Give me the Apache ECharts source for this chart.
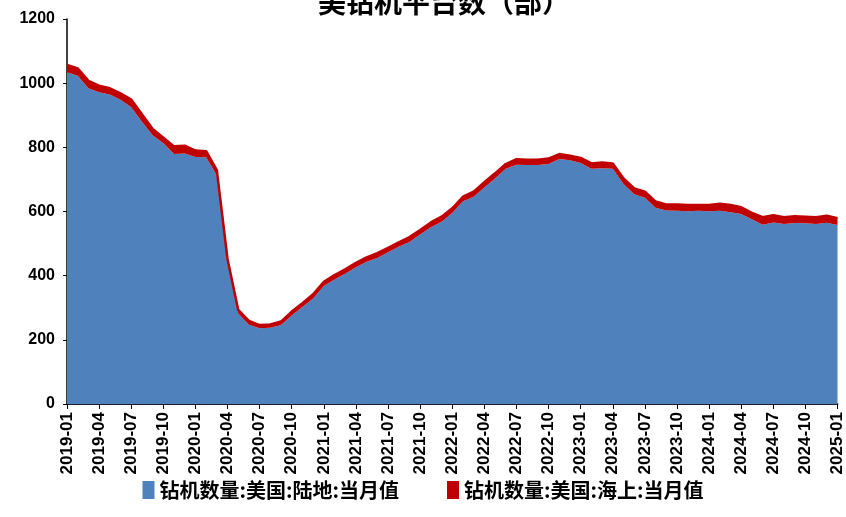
<!DOCTYPE html>
<html><head><meta charset="utf-8">
<script src="https://cdn.jsdelivr.net/npm/echarts@6/dist/echarts.min.js"></script>
<style>html,body{margin:0;padding:0;background:#fff}#c{width:846px;height:517px}</style>
</head><body><div id="c"></div>
<script>
const titleText = '美钻机平台数（部）';
const seriesNames = ['钻机数量:美国:陆地:当月值', '钻机数量:美国:海上:当月值'];
const months = [];
for (let y = 2019; y <= 2025; y++) for (let m = 1; m <= 12; m++) { if (y === 2025 && m > 1) break; months.push(y + '-' + String(m).padStart(2, '0')); }
const land = [1034,1023,984,972,965,948,925,880,838,813,779,781,770,769,712,440,282,247,236,238,246,276,302,329,368,388,406,426,443,455,473,490,505,528,551,568,595,632,646,675,703,733,746,745,745,748,764,760,751,733,735,733,686,654,643,612,603,602,601,602,601,602,598,592,576,559,566,561,564,563,561,565,558];
const offshore = [23,23,23,20,19,20,24,23,19,17,24,24,20,19,17,12,11,12,10,10,11,12,12,13,13,14,14,14,14,15,14,14,15,14,15,16,15,14,16,16,16,15,17,16,16,17,15,14,16,17,18,17,17,18,19,19,19,20,19,18,19,22,22,21,20,23,22,21,21,21,21,22,21];
const yTicks = [0,200,400,600,800,1000,1200];

const chart = echarts.init(document.getElementById('c'));
chart.setOption({
  animation: false,
  title: { text: titleText, left: 313, top: -17, textStyle: { fontFamily: 'Noto Sans CJK SC', fontSize: 28, fontWeight: 'bold', color: '#000' } },
  grid: { left: 67, right: 8, top: 19, bottom: 113, containLabel: false },
  legend: {
    bottom: 12, left: 'center', itemGap: 48, itemWidth: 12, itemHeight: 18,
    icon: 'rect',
    textStyle: { fontFamily: 'Noto Sans CJK SC', fontSize: 20, fontWeight: 'bold', color: '#000' },
    data: seriesNames
  },
  xAxis: {
    type: 'category', data: months, boundaryGap: false,
    axisLine: { lineStyle: { color: '#1b1b2b', width: 2 } },
    axisTick: { interval: 2, length: 5, lineStyle: { color: '#000' } },
    axisLabel: { interval: 2, rotate: 90, fontFamily: 'Liberation Sans', fontWeight: 'bold', fontSize: 17, color: '#000', margin: 8 },
    splitLine: { show: false }
  },
  yAxis: {
    type: 'value', min: yTicks[0], max: yTicks[yTicks.length - 1], interval: 200,
    axisLine: { show: true, lineStyle: { color: '#000', width: 1.5 } },
    axisTick: { show: true, length: 4, lineStyle: { color: '#000' } },
    axisLabel: { fontFamily: 'Liberation Sans', fontWeight: 'bold', fontSize: 16, color: '#000', margin: 12, formatter: v => String(v) },
    splitLine: { show: false }
  },
  series: [
    { name: seriesNames[0], type: 'line', stack: 't', data: land, symbol: 'none',
      lineStyle: { width: 0 }, itemStyle: { color: '#4F81BD' }, areaStyle: { color: '#4F81BD', opacity: 1 } },
    { name: seriesNames[1], type: 'line', stack: 't', data: offshore, symbol: 'none',
      lineStyle: { width: 2.5, color: '#C00000' }, itemStyle: { color: '#C00000' }, areaStyle: { color: '#C00000', opacity: 1 } }
  ]
});
</script></body></html>
